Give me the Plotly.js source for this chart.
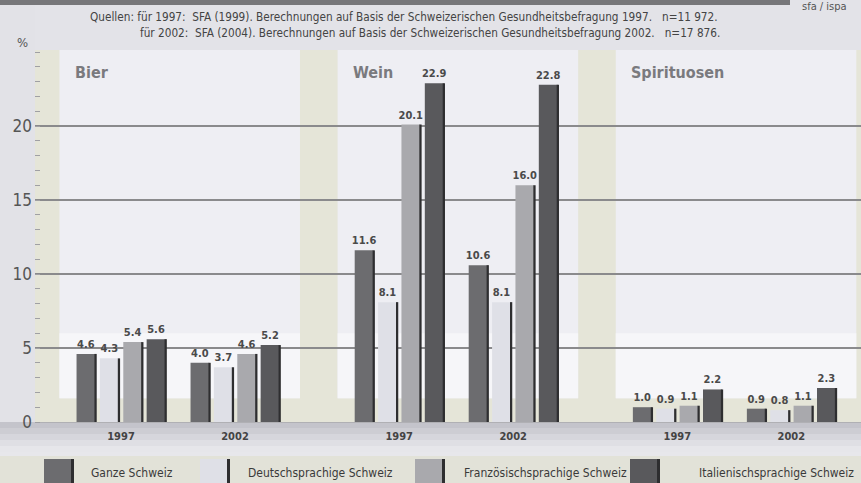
<!DOCTYPE html>
<html>
<head>
<meta charset="utf-8">
<script src="https://cdn.plot.ly/plotly-3.0.1.min.js"></script>
<style>
html,body{margin:0;padding:0;background:#e3e3e8;}
#chart{width:861px;height:483px;}
</style>
</head>
<body>
<div id="chart"></div>
<script>
// ---- data ----
const panels = ['Bier', 'Wein', 'Spirituosen'];
const years = ['1997', '2002'];
const seriesNames = ['Ganze Schweiz', 'Deutschsprachige Schweiz', 'Französischsprachige Schweiz', 'Italienischsprachige Schweiz'];
// order: Bier 1997, Bier 2002, Wein 1997, Wein 2002, Spirituosen 1997, Spirituosen 2002
const ganzeSchweiz = [4.6, 4.0, 11.6, 10.6, 1.0, 0.9];
const deutschSchweiz = [4.3, 3.7, 8.1, 8.1, 0.9, 0.8];
const franzSchweiz = [5.4, 4.6, 20.1, 16.0, 1.1, 1.1];
const italSchweiz = [5.6, 5.2, 22.9, 22.8, 2.2, 2.3];
const yTickVals = [0, 5, 10, 15, 20];
const sourceLine1 = 'Quellen: für 1997:  SFA (1999). Berechnungen auf Basis der Schweizerischen Gesundheitsbefragung 1997.   n=11 972.';
const sourceLine2 = 'für 2002:  SFA (2004). Berechnungen auf Basis der Schweizerischen Gesundheitsbefragung 2002.   n=17 876.';

// ---- layout helpers ----
const FONT = '"DejaVu Sans Condensed", "Liberation Sans Narrow", "Open Sans", sans-serif';
const PANEL_STEP = 2.44;
const centers = [];
const tickText = [];
panels.forEach((p, i) => years.forEach((y, j) => { centers.push(i * PANEL_STEP + j); tickText.push(y); }));
const seriesValues = [ganzeSchweiz, deutschSchweiz, franzSchweiz, italSchweiz];
const colors = ['#6c6c6f', '#dfe0e7', '#a9a9ad', '#59595c'];
const STEP = 0.205, BARW = 0.165, SHW = 0.02;

const traces = [];
seriesValues.forEach((vals, k) => {
  const off = (k - 1.5) * STEP - BARW / 2;
  traces.push({
    type: 'bar', name: seriesNames[k], x: centers, y: vals,
    offset: off, width: BARW,
    marker: {color: colors[k], line: {width: 0}},
    text: vals.map(v => v.toFixed(1)), textposition: 'outside', constraintext: 'none',
    textfont: {family: FONT, size: 11, color: '#4a4a4a', weight: 'bold'},
    cliponaxis: false, showlegend: false, hoverinfo: 'y'
  });
  traces.push({
    type: 'bar', name: seriesNames[k] + ' shadow', x: centers, y: vals,
    offset: off + BARW - SHW * 0.4, width: SHW,
    marker: {color: '#2e2e30', line: {width: 0}},
    showlegend: false, hoverinfo: 'skip'
  });
});

const shapes = [];
const annotations = [];
// panels
panels.forEach((p, i) => {
  const c97 = i * PANEL_STEP, c02 = c97 + 1;
  shapes.push({type: 'rect', layer: 'below', xref: 'x', yref: 'y', x0: c97 - 0.54, x1: c02 + 0.57, y0: 1.6, y1: 25.2,
    fillcolor: '#eeeef3', line: {width: 0}});
  shapes.push({type: 'rect', layer: 'below', xref: 'x', yref: 'y', x0: c97 - 0.54, x1: c02 + 0.57, y0: 1.6, y1: 6,
    fillcolor: '#f6f6f9', line: {width: 0}});
  annotations.push({xref: 'x', yref: 'y', x: c97 - 0.42, y: 23.65, xanchor: 'left', yanchor: 'middle',
    text: '<b>' + p + '</b>', showarrow: false, font: {family: FONT, size: 16, color: '#7a7a7e'}});
});
// left grey strip and bottom grey bands (paper coords)
shapes.push({type: 'rect', layer: 'below', xref: 'paper', yref: 'paper', x0: -0.05, x1: 0, y0: 0, y1: 1.2, fillcolor: '#e2e2e7', line: {width: 0}});
const bandCols = ['#c4c4cb', '#cdcdd3', '#d6d6dc', '#dfdfe4', '#e6e6ea'];
bandCols.forEach((c, i) => {
  shapes.push({type: 'rect', layer: 'below', xref: 'paper', yref: 'paper', x0: -0.05, x1: 1.01,
    y0: -(i + 1) * 6 / 372, y1: -i * 6 / 372, fillcolor: c, line: {width: 0}});
});
shapes.push({type: 'rect', layer: 'below', xref: 'paper', yref: 'paper', x0: -0.05, x1: 1.01, y0: -0.175, y1: -30 / 372, fillcolor: '#e7e7eb', line: {width: 0}});
shapes.push({type: 'rect', layer: 'below', xref: 'paper', yref: 'paper', x0: -0.05, x1: 1.01, y0: -0.175, y1: -(456 - 422) / 372, fillcolor: '#e2e2d8', line: {width: 0}});
// top dark bar
shapes.push({type: 'rect', xref: 'paper', yref: 'paper', x0: -0.05, x1: (790 - 35) / 826, y0: (422 - 5) / 372, y1: 1.2, fillcolor: '#77777a', line: {width: 0}});
annotations.push({xref: 'paper', yref: 'paper', x: (800 - 35) / 826, y: (422 - 6) / 372, xanchor: 'left', yanchor: 'middle',
  text: 'sfa / ispa', showarrow: false, font: {family: FONT, size: 11, color: '#555'}});

// source
annotations.push({xref: 'paper', yref: 'paper', x: (88 - 35) / 826, y: (422 - 17) / 372, xanchor: 'left', yanchor: 'middle',
  text: sourceLine1, showarrow: false, font: {family: FONT, size: 11.7, color: '#444'}});
annotations.push({xref: 'paper', yref: 'paper', x: (138 - 35) / 826, y: (422 - 33) / 372, xanchor: 'left', yanchor: 'middle',
  text: sourceLine2, showarrow: false, font: {family: FONT, size: 11.7, color: '#444'}});
// percent
annotations.push({xref: 'paper', yref: 'paper', x: (22 - 35) / 826, y: (422 - 42) / 372, xanchor: 'center', yanchor: 'middle',
  text: '%', showarrow: false, font: {family: FONT, size: 13, color: '#555'}});

// legend built from series names
const legX = [44, 200, 415, 630];
const legTextX = [89, 246, 462, 697];
seriesNames.forEach((n, k) => {
  const x0 = (legX[k] - 35) / 826, x1 = (legX[k] + 30 - 35) / 826;
  shapes.push({type: 'rect', xref: 'paper', yref: 'paper', x0: x0, x1: x1, y0: -(485 - 422) / 372, y1: -(459 - 422) / 372,
    fillcolor: colors[k], line: {width: 0}});
  shapes.push({type: 'rect', xref: 'paper', yref: 'paper', x0: x1 - 3 / 826, x1: x1, y0: -(485 - 422) / 372, y1: -(459 - 422) / 372,
    fillcolor: '#2e2e30', line: {width: 0}});
  annotations.push({xref: 'paper', yref: 'paper', x: (legTextX[k] - 35) / 826, y: -(473 - 422) / 372, xanchor: 'left', yanchor: 'middle',
    text: n, showarrow: false, font: {family: FONT, size: 12, color: '#3a3a3a'}});
});

const layout = {
  width: 861, height: 483,
  margin: {l: 35, r: 0, t: 50, b: 61},
  paper_bgcolor: '#e3e3e8',
  plot_bgcolor: '#e5e5d8',
  barmode: 'overlay',
  showlegend: false,
  xaxis: {
    range: [(35 - 121) / 114, (861 - 121) / 114],
    tickvals: centers, ticktext: tickText,
    showgrid: false, zeroline: false, showline: false, ticks: '',
    tickfont: {family: FONT, size: 11, color: '#444', weight: 'bold'},
    ticklabelstandoff: 6
  },
  yaxis: {
    range: [0, 25.14],
    tickvals: yTickVals,
    showgrid: true, gridcolor: '#8a8a8c', gridwidth: 1.5,
    zeroline: true, zerolinecolor: '#b0b0b4', zerolinewidth: 1,
    showline: false,
    ticks: '',
    minor: {dtick: 1, ticks: 'inside', ticklen: 5, tickcolor: '#a0a0a4', tickwidth: 1, showgrid: false},
    tickfont: {family: FONT, size: 17, color: '#555'},
    ticklabelstandoff: 2
  },
  shapes: shapes,
  annotations: annotations,
  font: {family: FONT}
};

Plotly.newPlot('chart', traces, layout, {staticPlot: true, displayModeBar: false});
</script>
</body>
</html>
